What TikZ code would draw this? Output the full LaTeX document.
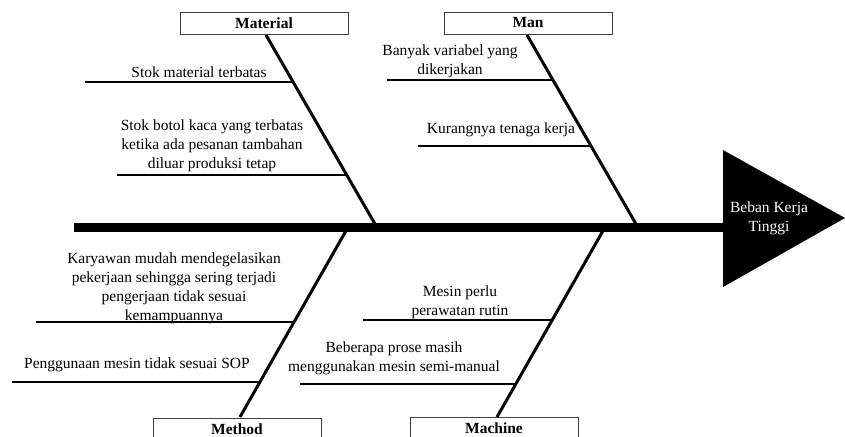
\documentclass[tikz,border=0pt]{standalone}
\usepackage{fontspec}
\setmainfont{Liberation Serif}

\newcommand{\fishfont}{\fontsize{15.5}{19}\selectfont}

\tikzset{
  causebox/.style={draw=black!75, line width=0.8pt, minimum width=168pt, minimum height=22pt, inner sep=0pt, font=\fishfont\bfseries},
  bone/.style={line width=3pt},
  twig/.style={line width=1.8pt},
  cause/.style={align=center, inner sep=0pt, font=\fishfont},
}

\begin{document}
\begin{tikzpicture}[x=1pt, y=-1pt]
        \useasboundingbox (0,0) rectangle (845,436);

        % category boxes
        \node[causebox] (material) at (264,23) {Material};
        \node[causebox] (man) at (528,23) {Man};
        \node[causebox] (method) at (237,429) {Method};
        \node[causebox] (machine) at (494,428) {Machine};

        \coordinate (tail) at (74,227);
        \coordinate (head) at (723,227);
        \coordinate (T1) at (723,150);
        \coordinate (T2) at (845,218);
        \coordinate (T3) at (723,287);

        \coordinate (matA) at (266,35);
        \coordinate (matB) at (375,224);
        \coordinate (manA) at (527,35);
        \coordinate (manB) at (636,224);
        \coordinate (metA) at (347,229);
        \coordinate (metB) at (240,417);
        \coordinate (macA) at (604,229);
        \coordinate (macB) at (497,417);

        % spine and head
        \draw[line width=9pt] (tail)--(head);
        \fill[black] (T1)--(T2)--(T3)--cycle;
        \node[cause, text=white] (effect) at (769,218) {Beban Kerja\\Tinggi};

        % main bones
        \draw[bone] (matA)--(matB);
        \draw[bone] (manA)--(manB);
        \draw[bone] (metA)--(metB);
        \draw[bone] (macA)--(macB);

        % sub causes
        \coordinate (m1a) at (85,82);   \coordinate (m1b) at (293,82);
        \coordinate (m2a) at (117,175); \coordinate (m2b) at (347,175);
        \coordinate (n1a) at (387,80);  \coordinate (n1b) at (553,80);
        \coordinate (n2a) at (418,146); \coordinate (n2b) at (591,146);
        \coordinate (t1a) at (36,322);  \coordinate (t1b) at (294,322);
        \coordinate (t2a) at (12,382);  \coordinate (t2b) at (260,382);
        \coordinate (c1a) at (363,320); \coordinate (c1b) at (552,320);
        \coordinate (c2a) at (300,384); \coordinate (c2b) at (515,384);

        \draw[twig] (m1a)--(m1b);
        \draw[twig] (m2a)--(m2b);
        \draw[twig] (n1a)--(n1b);
        \draw[twig] (n2a)--(n2b);
        \draw[twig] (t1a)--(t1b);
        \draw[twig] (t2a)--(t2b);
        \draw[twig] (c1a)--(c1b);
        \draw[twig] (c2a)--(c2b);

        \node[cause] (m1) at (199,72) {Stok material terbatas};
        \node[cause] (m2) at (212,146) {Stok botol kaca yang terbatas\\ketika ada pesanan tambahan\\diluar produksi tetap};
        \node[cause] (n1) at (450,61) {Banyak variabel yang\\dikerjakan};
        \node[cause] (n2) at (501,130) {Kurangnya tenaga kerja};
        \node[cause] (t1) at (174,288) {Karyawan mudah mendegelasikan\\pekerjaan sehingga sering terjadi\\pengerjaan tidak sesuai\\kemampuannya};
        \node[cause] (t2) at (137,365) {Penggunaan mesin tidak sesuai SOP};
        \node[cause] (c1) at (460,302) {Mesin perlu\\perawatan rutin};
        \node[cause] (c2) at (394,358) {Beberapa prose masih\\menggunakan mesin semi-manual};
    \end{tikzpicture}
\end{document}
